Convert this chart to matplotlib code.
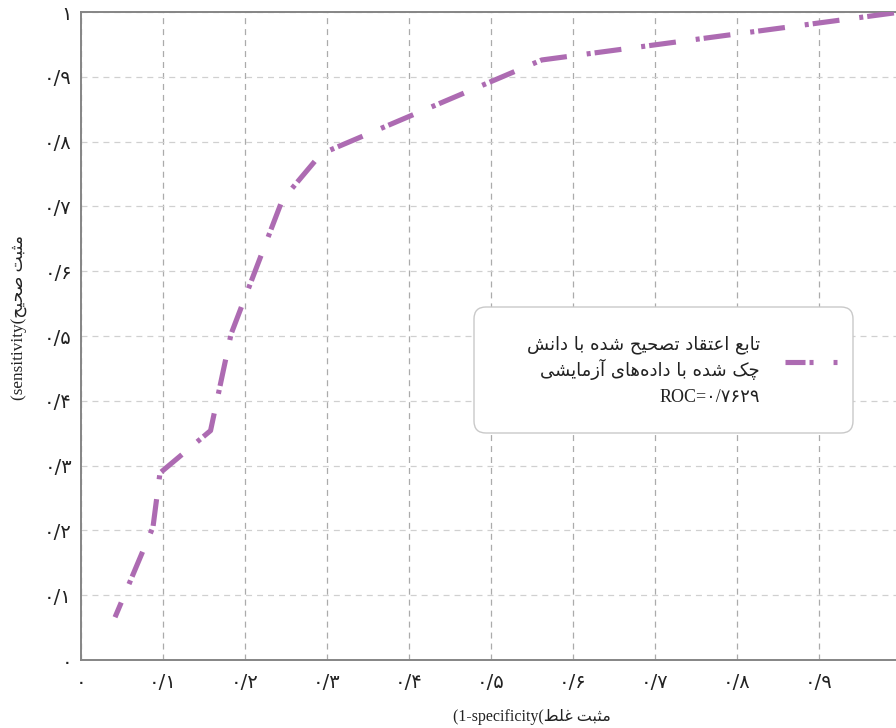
import matplotlib
matplotlib.use("Agg")
import matplotlib.pyplot as plt
from matplotlib.lines import Line2D
from matplotlib.patches import FancyBboxPatch

# ROC curve points (false positive rate, true positive rate)
fpr = [0.0415, 0.0878, 0.0963, 0.158, 0.183, 0.2455, 0.2927, 0.562, 1.0]
tpr = [0.066, 0.2052, 0.2886, 0.354, 0.503, 0.710, 0.781, 0.926, 1.0]

tick_values = [0.0, 0.1, 0.2, 0.3, 0.4, 0.5, 0.6, 0.7, 0.8, 0.9, 1.0]
tick_labels = ["۰", "۰/۱", "۰/۲", "۰/۳", "۰/۴", "۰/۵", "۰/۶", "۰/۷", "۰/۸", "۰/۹", "۱"]

x_label_fa = "مثبت غلط"
x_label_en = "(1-specificity("
y_label_fa = "مثبت صحیح"
y_label_en = "(sensitivity("
legend_lines_fa = ["تابع اعتقاد تصحیح شده با دانش", "چک شده با داده‌های آزمایشی"]
legend_roc = "ROC=۰/۷۶۲۹"

LINE_COLOR = "#ad6bb2"

# --- minimal Persian shaping: contextual forms + visual (reversed) order ---
_FORMS = {
    "ا": ("\uFE8D", "\uFE8E", None, None),
    "آ": ("\uFE81", "\uFE82", None, None),
    "ب": ("\uFE8F", "\uFE90", "\uFE91", "\uFE92"),
    "پ": ("\uFB56", "\uFB57", "\uFB58", "\uFB59"),
    "ت": ("\uFE95", "\uFE96", "\uFE97", "\uFE98"),
    "ث": ("\uFE99", "\uFE9A", "\uFE9B", "\uFE9C"),
    "ج": ("\uFE9D", "\uFE9E", "\uFE9F", "\uFEA0"),
    "چ": ("\uFB7A", "\uFB7B", "\uFB7C", "\uFB7D"),
    "ح": ("\uFEA1", "\uFEA2", "\uFEA3", "\uFEA4"),
    "خ": ("\uFEA5", "\uFEA6", "\uFEA7", "\uFEA8"),
    "د": ("\uFEA9", "\uFEAA", None, None),
    "ذ": ("\uFEAB", "\uFEAC", None, None),
    "ر": ("\uFEAD", "\uFEAE", None, None),
    "ز": ("\uFEAF", "\uFEB0", None, None),
    "ژ": ("\uFB8A", "\uFB8B", None, None),
    "س": ("\uFEB1", "\uFEB2", "\uFEB3", "\uFEB4"),
    "ش": ("\uFEB5", "\uFEB6", "\uFEB7", "\uFEB8"),
    "ص": ("\uFEB9", "\uFEBA", "\uFEBB", "\uFEBC"),
    "ض": ("\uFEBD", "\uFEBE", "\uFEBF", "\uFEC0"),
    "ط": ("\uFEC1", "\uFEC2", "\uFEC3", "\uFEC4"),
    "ظ": ("\uFEC5", "\uFEC6", "\uFEC7", "\uFEC8"),
    "ع": ("\uFEC9", "\uFECA", "\uFECB", "\uFECC"),
    "غ": ("\uFECD", "\uFECE", "\uFECF", "\uFED0"),
    "ف": ("\uFED1", "\uFED2", "\uFED3", "\uFED4"),
    "ق": ("\uFED5", "\uFED6", "\uFED7", "\uFED8"),
    "ک": ("\uFB8E", "\uFB8F", "\uFB90", "\uFB91"),
    "گ": ("\uFB92", "\uFB93", "\uFB94", "\uFB95"),
    "ل": ("\uFEDD", "\uFEDE", "\uFEDF", "\uFEE0"),
    "م": ("\uFEE1", "\uFEE2", "\uFEE3", "\uFEE4"),
    "ن": ("\uFEE5", "\uFEE6", "\uFEE7", "\uFEE8"),
    "و": ("\uFEED", "\uFEEE", None, None),
    "ه": ("\uFEE9", "\uFEEA", "\uFEEB", "\uFEEC"),
    "ی": ("\uFBFC", "\uFBFD", "\uFBFE", "\uFBFF"),
}


def shape_fa(text):
    def links_forward(c):
        return c in _FORMS and _FORMS[c][2] is not None

    out = []
    for i, c in enumerate(text):
        if c not in _FORMS:
            out.append(c)
            continue
        prev = text[i - 1] if i > 0 else ""
        nxt = text[i + 1] if i + 1 < len(text) else ""
        p = links_forward(prev)
        n = links_forward(c) and nxt in _FORMS
        iso, fin, ini, med = _FORMS[c]
        out.append(med if (p and n) else fin if p else ini if n else iso)
    return "".join(out).replace("\u200c", "")[::-1]


plt.rcParams["font.family"] = ["DejaVu Sans"]
plt.rcParams["lines.scale_dashes"] = False
SERIF = ["Liberation Serif", "DejaVu Sans"]

W, H = 896, 728
fig = plt.figure(figsize=(W / 100, H / 100), dpi=100, facecolor="white")
ax = fig.add_axes([81 / W, 68 / H, 820 / W, 648 / H])
ax.set_xlim(0, 1)
ax.set_ylim(0, 1)

for side in ["left", "bottom", "top", "right"]:
    ax.spines[side].set_color("#858585")
    ax.spines[side].set_linewidth(1.4)

# the x axis runs past the right edge of the canvas, so its last label is not drawn
ax.set_xticks(tick_values[:-1])
ax.set_yticks(tick_values)
ax.set_xticklabels(tick_labels[:-1])
ax.set_yticklabels(tick_labels)
ax.tick_params(axis="x", length=0, pad=9, labelsize=14, labelcolor="#222222")
ax.tick_params(axis="y", length=0, pad=6.5, labelsize=14, labelcolor="#222222")

ax.xaxis.grid(True, color="#ababab", linestyle=(0, (4.3, 3.6)), linewidth=0.9)
ax.yaxis.grid(True, color="#d0d0d0", linestyle=(0, (4.3, 3.6)), linewidth=0.9)
ax.set_axisbelow(True)

roc_line, = ax.plot(fpr, tpr, color=LINE_COLOR, linewidth=3.7,
                    solid_capstyle="butt", dash_capstyle="butt", zorder=3)
roc_line.set_linestyle((7.9, (19.4, 14.4, 2.9, 2.9)))

# axis titles
fig.text(532 / W, 1 - 717 / H, x_label_en + shape_fa(x_label_fa), family=SERIF,
         fontsize=11.5, ha="center", va="center", color="#222222")
fig.text(20 / W, 1 - 318 / H, y_label_en + shape_fa(y_label_fa), family=SERIF,
         fontsize=12.3, ha="center", va="center", rotation=90, color="#222222")

# legend box
bx0, bx1 = (474 - 81) / 820, (853 - 81) / 820
by0, by1 = (660 - 433) / 648, (660 - 307) / 648
box = FancyBboxPatch((bx0, by0), bx1 - bx0, by1 - by0,
                     boxstyle="round,pad=0,rounding_size=0.0146",
                     mutation_aspect=820 / 648, transform=ax.transAxes,
                     facecolor="white", edgecolor="#c9c9c9", linewidth=1.0,
                     zorder=5)
ax.add_patch(box)

tx = (760 - 81) / 820
ax.text(tx, (660 - 345) / 648, shape_fa(legend_lines_fa[0]), transform=ax.transAxes,
        ha="right", va="center", fontsize=13, color="#222222", zorder=6)
ax.text(tx, (660 - 369) / 648, shape_fa(legend_lines_fa[1]), transform=ax.transAxes,
        ha="right", va="center", fontsize=13, color="#222222", zorder=6)
ax.text(tx, (660 - 397) / 648, legend_roc, transform=ax.transAxes, family=SERIF,
        ha="right", va="center", fontsize=13, color="#222222", zorder=6)

handle = Line2D([(785 - 81) / 820, (837 - 81) / 820], [(660 - 362) / 648] * 2,
                transform=ax.transAxes, color=LINE_COLOR, linewidth=3.7,
                dash_capstyle="butt", zorder=6)
handle.set_linestyle((5.0, (19.4, 2.9, 2.9, 14.4)))
ax.add_line(handle)

fig.savefig("out.png", dpi=100, facecolor="white")
